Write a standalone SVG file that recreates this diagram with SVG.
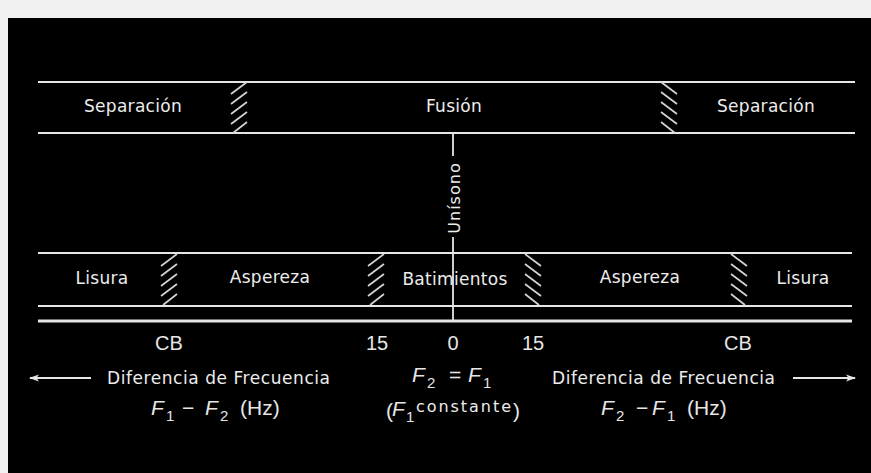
<svg xmlns="http://www.w3.org/2000/svg" xmlns:xlink="http://www.w3.org/1999/xlink" width="871" height="473" viewBox="0 0 871 473">
<style>
.ln{stroke:#e6e6e6;stroke-width:1.8;fill:none}
.hl{stroke:#d4d4d4;stroke-width:1.7;fill:none}
.lbl{font-family:"DejaVu Sans",sans-serif;font-size:17px;fill:#ececec;text-anchor:middle}
.num{font-family:"Liberation Sans",Arial,sans-serif;font-size:20px;fill:#e6e6e6;text-anchor:middle}
.mf{font-family:"Liberation Sans",Arial,sans-serif;font-size:21px;fill:#e6e6e6}
.it{font-style:italic}
.sub{font-size:15px}
.cap{font-family:"DejaVu Sans",sans-serif;font-size:17px;fill:#ececec}
</style>
<defs>
<g id="hs">
<line class="hl" x1="1" y1="12" x2="17" y2="0"/>
<line class="hl" x1="1" y1="22" x2="17" y2="10"/>
<line class="hl" x1="1" y1="32" x2="17" y2="20"/>
<line class="hl" x1="1" y1="42" x2="17" y2="30"/>
<line class="hl" x1="3" y1="51" x2="17" y2="40"/>
</g>
<g id="hb">
<line class="hl" x1="1" y1="0" x2="17" y2="12"/>
<line class="hl" x1="1" y1="10" x2="17" y2="22"/>
<line class="hl" x1="1" y1="20" x2="17" y2="32"/>
<line class="hl" x1="1" y1="30" x2="17" y2="42"/>
<line class="hl" x1="1" y1="40" x2="15" y2="51"/>
</g>
<marker id="ah" viewBox="0 0 10 10" refX="9" refY="5" markerWidth="10" markerHeight="10" orient="auto-start-reverse" markerUnits="userSpaceOnUse">
<path d="M0,1.5 L10,5 L0,8.5 L2.5,5 Z" fill="#e6e6e6"/>
</marker>
</defs>
<rect x="0" y="0" width="871" height="473" fill="#f1f1f1"/>
<rect x="8" y="18" width="863" height="455" fill="#000"/>

<g id="connectors">
<line class="ln" x1="38" y1="82" x2="855" y2="82"/>
<line class="ln" x1="38" y1="133" x2="855" y2="133"/>
<line class="ln" x1="38" y1="253" x2="852" y2="253"/>
<line class="ln" x1="38" y1="306" x2="852" y2="306"/>
<line class="ln" x1="38" y1="321" x2="852" y2="321" style="stroke-width:2.8"/>
<line class="ln" x1="453" y1="133" x2="453" y2="156"/>
<line class="ln" x1="453" y1="237" x2="453" y2="321"/>
<line class="ln" x1="91" y1="378" x2="30" y2="378" marker-end="url(#ah)"/>
<line class="ln" x1="793" y1="378" x2="855" y2="378" marker-end="url(#ah)"/>
</g>

<g id="hatches">
<use xlink:href="#hs" x="230" y="82"/>
<use xlink:href="#hb" x="660" y="82"/>
<use xlink:href="#hs" x="160" y="254"/>
<use xlink:href="#hs" x="367" y="254"/>
<use xlink:href="#hb" x="524" y="254"/>
<use xlink:href="#hb" x="730" y="254"/>
</g>

<g id="top-row">
<text class="lbl" x="133" y="112" style="letter-spacing:0.3px">Separación</text>
<text class="lbl" x="454" y="112" style="letter-spacing:0.3px">Fusión</text>
<text class="lbl" x="766" y="112" style="letter-spacing:0.3px">Separación</text>
</g>

<g id="unisono">
<text class="lbl" transform="translate(460,198) rotate(-90)" style="font-size:16px;letter-spacing:1px">Unísono</text>
</g>

<g id="bottom-row">
<text class="lbl" x="102" y="284" style="letter-spacing:0.3px">Lisura</text>
<text class="lbl" x="270" y="283" style="letter-spacing:0.3px">Aspereza</text>
<text class="lbl" x="455" y="285" style="letter-spacing:0.3px">Batimientos</text>
<text class="lbl" x="640" y="283" style="letter-spacing:0.3px">Aspereza</text>
<text class="lbl" x="803" y="284" style="letter-spacing:0.3px">Lisura</text>
</g>

<g id="scale">
<text class="num" x="169" y="350">CB</text>
<text class="num" x="377" y="350">15</text>
<text class="num" x="453" y="350">0</text>
<text class="num" x="533" y="350">15</text>
<text class="num" x="738" y="350">CB</text>
</g>

<g id="axis-left">
<text class="cap" x="107" y="384" textLength="223">Diferencia de Frecuencia</text>
<text class="mf"><tspan class="it" x="151" y="415">F</tspan><tspan class="sub" x="166" y="421">1</tspan><tspan x="182" y="415">−</tspan><tspan class="it" x="205" y="415">F</tspan><tspan class="sub" x="220" y="421">2</tspan><tspan x="240" y="415">(Hz)</tspan></text>
</g>

<g id="axis-center">
<text class="mf"><tspan class="it" x="412" y="382">F</tspan><tspan class="sub" x="427" y="388">2</tspan><tspan x="449" y="382">=</tspan><tspan class="it" x="468" y="382">F</tspan><tspan class="sub" x="483" y="388">1</tspan></text>
<text class="mf"><tspan x="386" y="418">(</tspan><tspan class="it" x="392" y="416">F</tspan><tspan class="sub" x="406" y="422">1</tspan><tspan x="513" y="418">)</tspan></text>
<text class="cap" x="416" y="412" textLength="95" style="font-size:16px">constante</text>
</g>

<g id="axis-right">
<text class="cap" x="552" y="384" textLength="223">Diferencia de Frecuencia</text>
<text class="mf"><tspan class="it" x="601" y="415">F</tspan><tspan class="sub" x="616" y="421">2</tspan><tspan x="636" y="415">−</tspan><tspan class="it" x="652" y="415">F</tspan><tspan class="sub" x="667" y="421">1</tspan><tspan x="687" y="415">(Hz)</tspan></text>
</g>
</svg>
